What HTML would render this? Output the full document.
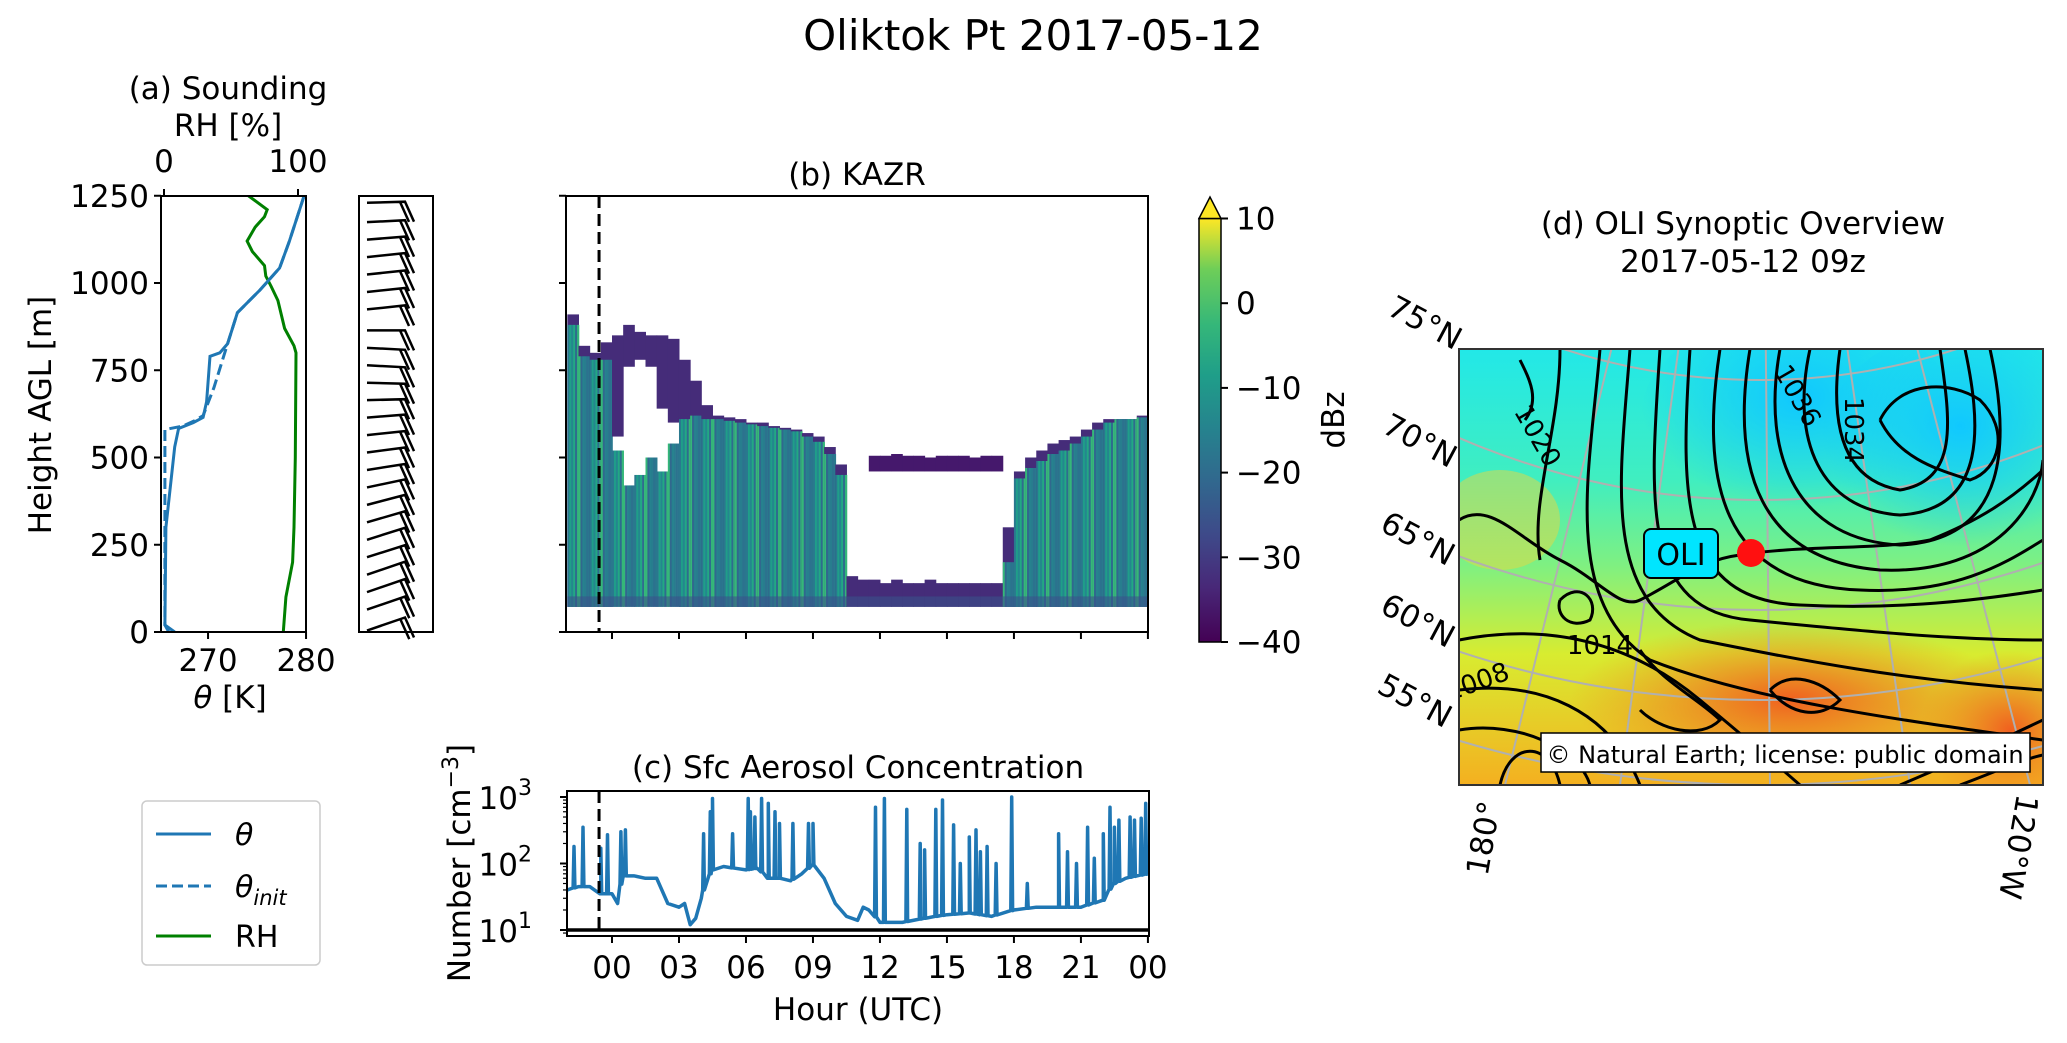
<!DOCTYPE html>
<html><head><meta charset="utf-8"><style>
html,body{margin:0;padding:0;background:#fff;overflow:hidden}
svg{display:block;font-family:"DejaVu Sans","Liberation Sans",sans-serif}
</style></head><body>
<svg id="fig" width="2067" height="1043" viewBox="0 0 2067 1043" xmlns="http://www.w3.org/2000/svg">
<defs>
<linearGradient id="viridis" x1="0" y1="1" x2="0" y2="0">
<stop offset="0" stop-color="#440154"/><stop offset="0.13" stop-color="#482878"/><stop offset="0.25" stop-color="#3e4989"/><stop offset="0.38" stop-color="#31688e"/><stop offset="0.5" stop-color="#26828e"/><stop offset="0.63" stop-color="#1f9e89"/><stop offset="0.75" stop-color="#35b779"/><stop offset="0.88" stop-color="#6ece58"/><stop offset="1" stop-color="#fde725"/>
</linearGradient>
<linearGradient id="mapbg" x1="0" y1="0" x2="0" y2="1">
<stop offset="0" stop-color="#22e8e8"/><stop offset="0.3" stop-color="#40eec0"/><stop offset="0.5" stop-color="#80f080"/><stop offset="0.7" stop-color="#d8ec30"/><stop offset="1" stop-color="#f4b020"/>
</linearGradient>
<radialGradient id="hiblue" cx="0.5" cy="0.4" r="0.5"><stop offset="0" stop-color="#10c8ff"/><stop offset="1" stop-color="#10c8ff" stop-opacity="0"/></radialGradient>
<radialGradient id="orange" cx="0.5" cy="0.5" r="0.5"><stop offset="0" stop-color="#f06020"/><stop offset="1" stop-color="#f08020" stop-opacity="0"/></radialGradient>
<clipPath id="mapclip"><rect x="1459" y="349" width="584" height="436"/></clipPath>
<clipPath id="aclip"><rect x="161" y="196" width="145" height="436"/></clipPath>
<clipPath id="cclip"><rect x="567" y="791" width="582" height="145"/></clipPath>
</defs>
<text x="1033" y="50" font-size="42" text-anchor="middle">Oliktok Pt 2017-05-12</text>
<g id="pa"></g>
<g id="pbarb"></g>
<g id="pb"></g>
<g id="pc"></g>
<g id="pd"></g>
<g>
<rect x="142" y="801" width="178" height="164" rx="5" fill="#fff" stroke="#ccc" stroke-width="1.5"/>
<line x1="156" y1="834" x2="211" y2="834" stroke="#1f77b4" stroke-width="3"/>
<text x="235" y="845" font-size="30" font-style="italic">θ</text>
<line x1="156" y1="886" x2="211" y2="886" stroke="#1f77b4" stroke-width="3" stroke-dasharray="11,5"/>
<text x="235" y="897" font-size="30"><tspan font-style="italic">θ</tspan><tspan font-size="21" dy="8" font-style="italic">init</tspan></text>
<line x1="156" y1="936" x2="211" y2="936" stroke="#008000" stroke-width="3"/>
<text x="235" y="947" font-size="30">RH</text>
</g>
</svg>
<script>
const NS="http://www.w3.org/2000/svg";
function mk(parent,tag,attrs,text){const e=document.createElementNS(NS,tag);for(const k in attrs)e.setAttribute(k,attrs[k]);if(text!==undefined)e.textContent=text;parent.appendChild(e);return e;}

// ---------- Panel (a) data ----------
const thetaHeights=[0,20,300,530,583,600,615,660,790,800,826,915,980,1043,1120,1250];
const thetaValues=[266.6,265.6,265.7,266.6,267.0,268.5,269.5,269.85,270.2,271.2,272.0,273.0,275.3,277.3,278.3,279.8];
const thetaInitHeights=[0,20,300,580,590,605,620,700,826,915,980,1043,1120,1250];
const thetaInitValues=[266.0,265.6,265.6,265.6,267.4,268.6,269.5,270.6,272.0,273.0,275.3,277.3,278.3,279.8];
const rhHeights=[0,100,200,300,500,800,820,870,950,990,1020,1050,1090,1120,1160,1190,1210,1230,1250];
const rhValues=[89,91,96,97,98,98.5,97,90,85,80,76,75,66,62,68,75,77,70,63];
const heightTicks=[0,250,500,750,1000,1250];
const thetaTicks=[270,280];
const rhTicks=[0,100];
const barbHeights=[1230,1180,1130,1080,1030,980,930,870,820,770,720,670,620,570,520,470,420,370,320,270,220,170,120,70,10];
const barbSlopes=[-1,-2,-3,-4,-4,-4,-4,0,2,2,1,-1,-3,-4,-5,-6,-8,-10,-11,-12,-12,-13,-13,-13,-13];

const aX=t=>161+(t-265.2)*9.8;
const rX=r=>164+r*1.34;
const hY=h=>632-h*0.349;
{
const g=document.getElementById('pa');
const plot=mk(g,'g',{'clip-path':'url(#aclip)'});
let p=rhHeights.map((h,i)=>(i?'L':'M')+rX(rhValues[i]).toFixed(1)+','+hY(h).toFixed(1)).join('');
let e=mk(plot,'path',{d:p,fill:'none',stroke:'#008000','stroke-width':3});

p=thetaInitHeights.map((h,i)=>(i?'L':'M')+aX(thetaInitValues[i]).toFixed(1)+','+hY(h).toFixed(1)).join('');
e=mk(plot,'path',{d:p,fill:'none',stroke:'#1f77b4','stroke-width':3,'stroke-dasharray':'11,5'});

p=thetaHeights.map((h,i)=>(i?'L':'M')+aX(thetaValues[i]).toFixed(1)+','+hY(h).toFixed(1)).join('');
e=mk(plot,'path',{d:p,fill:'none',stroke:'#1f77b4','stroke-width':3});

e=mk(g,'rect',{x:161,y:196,width:145,height:436,fill:'none',stroke:'#000','stroke-width':2});

heightTicks.forEach(h=>{const y=hY(h);mk(g,'line',{x1:154,x2:161,y1:y,y2:y,stroke:'#000','stroke-width':2});
 const t=mk(g,'text',{x:149,y:y+11,'font-size':31,'text-anchor':'end'},String(h));
 });
thetaTicks.forEach(v=>{const x=aX(v);mk(g,'line',{x1:x,x2:x,y1:632,y2:639,stroke:'#000','stroke-width':2});
 const t=mk(g,'text',{x:x,y:671,'font-size':31,'text-anchor':'middle'},String(v));
 });
rhTicks.forEach(v=>{const x=rX(v);mk(g,'line',{x1:x,x2:x,y1:189,y2:196,stroke:'#000','stroke-width':2});
 const t=mk(g,'text',{x:x,y:172,'font-size':31,'text-anchor':'middle'},String(v));
 });
let t=mk(g,'text',{x:228,y:99,'font-size':31,'text-anchor':'middle'},'(a) Sounding');

t=mk(g,'text',{x:228,y:136,'font-size':31,'text-anchor':'middle'},'RH [%]');

t=mk(g,'text',{x:230,y:708,'font-size':31,'text-anchor':'middle'});
mk(t,'tspan',{'font-style':'italic'},'θ');mk(t,'tspan',{},' [K]');

t=mk(g,'text',{x:0,y:0,'font-size':31,'text-anchor':'middle',transform:'translate(51,415) rotate(-90)'},'Height AGL [m]');

// barbs
const gb=document.getElementById('pbarb');
let fr=mk(gb,'rect',{x:359,y:196,width:74,height:436,fill:'none',stroke:'#000','stroke-width':2});

barbHeights.forEach((h,i)=>{const y=hY(h)+ (h>1200?0:2);const s=barbSlopes[i];
 const x0=367,x1=405,y1=y+s;const dx=x1-x0,dy=y1-y;const L=Math.hypot(dx,dy);const ux=dx/L,uy=dy/L;
 const b=mk(gb,'path',{d:`M${x0},${y}L${x1},${y1.toFixed(1)}L${(x1+9).toFixed(1)},${(y1+20).toFixed(1)}M${(x1-5*ux).toFixed(1)},${(y1-5*uy).toFixed(1)}L${(x1-5*ux+9).toFixed(1)},${(y1-5*uy+20).toFixed(1)}`,fill:'none',stroke:'#000','stroke-width':2.5});
 });
}

// ---------- Panel (b) KAZR ----------
const kHours=[-2,-1.5,-1,-0.5,0,0.5,1,1.5,2,2.5,3,3.5,4,4.5,5,5.5,6,6.5,7,7.5,8,8.5,9,9.5,10,10.5,11,11.5,12,12.5,13,13.5,14,14.5,15,15.5,16,16.5,17,17.5,18,18.5,19,19.5,20,20.5,21,21.5,22,22.5,23,23.5];
const kBodyTop=[880,790,780,780,520,420,450,500,460,540,610,620,610,610,605,600,595,590,585,580,575,560,545,510,450,0,0,0,0,0,0,0,0,0,0,0,0,0,0,200,440,470,490,510,520,540,560,580,600,610,610,615];
const kCapTop=[910,820,800,830,850,880,860,850,850,840,780,720,650,620,615,610,600,600,590,585,580,570,560,530,480,160,150,150,140,150,140,140,150,140,140,140,140,140,140,300,460,500,520,540,550,560,580,600,610,610,610,620];
const kCapBottom=[0,0,0,0,560,760,780,760,640,600,0,0,0,0,0,0,0,0,0,0,0,0,0,0,0,0,0,0,0,0,0,0,0,0,0,0,0,0,0,0,0,0,0,0,0,0,0,0,0,0,0,0];
const kMidBase=[0,0,0,0,0,0,0,0,0,0,0,0,0,0,0,0,0,0,0,0,0,0,0,0,0,0,0,460,460,460,460,460,460,460,460,460,460,460,460,0,0,0,0,0,0,0,0,0,0,0,0,0];
const kMidTop=[0,0,0,0,0,0,0,0,0,0,0,0,0,0,0,0,0,0,0,0,0,0,0,0,0,0,0,505,505,510,505,505,500,505,505,505,500,505,505,0,0,0,0,0,0,0,0,0,0,0,0,0];
const kBase=72;
const dbzTicks=[10,0,-10,-20,-30,-40];
const bX=h=>612+h*22.33;
{
const g=document.getElementById('pb');
const col=['#2a788e','#26828e','#2f6c8e','#1f9e89','#287d8e','#35b779','#24878e','#2c728e','#31688e','#22a884'];
kHours.forEach((h,i)=>{
 const x=bX(h), w=22.33*0.5+0.5;
 const cap=kCapTop[i], body=kBodyTop[i];
 const capBot=kCapBottom[i]>0?kCapBottom[i]:kBase;
 if(cap>0){let r=mk(g,'rect',{x:x,y:hY(cap),width:w,height:hY(capBot)-hY(cap),fill:'#452c79'});
  }
 if(body>0){
  for(let k=0;k<6;k++){let r=mk(g,'rect',{x:x+k*w/6,y:hY(body),width:w/6+0.3,height:hY(kBase)-hY(body),fill:col[(i*5+k*3)%col.length]});
   }
 }
 if(kMidTop[i]>0){let r=mk(g,'rect',{x:x,y:hY(kMidTop[i]),width:w,height:hY(kMidBase[i])-hY(kMidTop[i]),fill:'#45186c'});
  }
 let r=mk(g,'rect',{x:x,y:hY(kBase+30),width:w,height:hY(kBase)-hY(kBase+30),fill:'#3b528b','fill-opacity':0.6});
 
});
let e=mk(g,'line',{x1:bX(-0.58),x2:bX(-0.58),y1:196,y2:632,stroke:'#000','stroke-width':3,'stroke-dasharray':'12,6'});

e=mk(g,'rect',{x:566,y:196,width:582,height:436,fill:'none',stroke:'#000','stroke-width':2});

heightTicks.forEach(h=>{const y=hY(h);mk(g,'line',{x1:559,x2:566,y1:y,y2:y,stroke:'#000','stroke-width':2});});
for(let hr=0;hr<=24;hr+=3){const x=bX(hr);mk(g,'line',{x1:x,x2:x,y1:632,y2:639,stroke:'#000','stroke-width':2});}
let t=mk(g,'text',{x:857,y:185,'font-size':31,'text-anchor':'middle'},'(b) KAZR');

const cY=v=>642-(v+40)*8.47;
e=mk(g,'rect',{x:1199,y:cY(10),width:22,height:cY(-40)-cY(10),fill:'url(#viridis)',stroke:'#000','stroke-width':1.5});

e=mk(g,'path',{d:`M1199,${cY(10)}L1210,197L1221,${cY(10)}Z`,fill:'#fde725',stroke:'#000','stroke-width':1.5});

dbzTicks.forEach(v=>{const y=cY(v);mk(g,'line',{x1:1221,x2:1228,y1:y,y2:y,stroke:'#000','stroke-width':2});
 const tt=mk(g,'text',{x:1236,y:y+11,'font-size':31},(v<0?'\u2212':'')+Math.abs(v));
 });
t=mk(g,'text',{x:0,y:0,'font-size':31,'text-anchor':'middle',transform:'translate(1344,420) rotate(-90)'},'dBz');

}

// ---------- Panel (c) aerosol ----------
const aeroHours=[-2,-1.5,-1,-0.5,0,0.25,0.5,1,1.5,2,2.5,3,3.25,3.5,3.75,4,4.5,5,5.5,6,6.5,7,7.5,8,8.5,9,9.5,10,10.5,11,11.25,11.5,12,13,14,15,16,17,18,19,20,21,22,22.5,23,23.5,24];
const aeroBase=[40,45,45,35,35,25,65,65,60,60,25,22,25,12,15,30,80,90,85,80,85,60,60,55,70,95,60,25,16,14,22,20,13,13,15,17,18,16,20,22,22,22,28,50,60,65,70];
const spikeHours=[-1.7,-1.3,-0.5,-0.2,0.4,0.6,4.1,4.4,4.5,5.4,6.1,6.2,6.4,6.7,7,7.3,7.5,8.1,8.8,9,11.8,12.2,13.2,13.8,14,14.5,14.8,15.3,15.6,16,16.3,16.5,16.8,17.2,17.9,18.6,20,20.4,20.8,21.3,21.6,22,22.3,22.5,22.7,23.2,23.4,23.7,23.9];
const spikePeaks=[180,350,170,270,300,320,280,600,950,280,950,600,500,950,800,600,400,400,400,400,700,950,650,200,160,650,900,380,100,250,320,150,180,100,1000,50,280,150,100,350,120,280,700,350,450,500,450,480,800];
const aeroYTicks=[1,2,3];
const hourTicks=[0,3,6,9,12,15,18,21,24];
const cYv=v=>930-(Math.log10(v)-1)*66.5;
function baseAt(h){for(let i=1;i<aeroHours.length;i++){if(h<=aeroHours[i]){const f=(h-aeroHours[i-1])/(aeroHours[i]-aeroHours[i-1]);return aeroBase[i-1]+f*(aeroBase[i]-aeroBase[i-1]);}}return aeroBase[aeroBase.length-1];}
{
const g=document.getElementById('pc');
const pts=aeroHours.map((h,i)=>[h,aeroBase[i]]);
spikeHours.forEach((h,i)=>{const b=baseAt(h);pts.push([h-0.04,b]);pts.push([h,spikePeaks[i]]);pts.push([h+0.04,b]);});
pts.sort((a,b)=>a[0]-b[0]);
const plot=mk(g,'g',{'clip-path':'url(#cclip)'});
let e=mk(plot,'path',{d:pts.map((p,i)=>(i?'L':'M')+bX(p[0]).toFixed(1)+','+cYv(p[1]).toFixed(1)).join(''),fill:'none',stroke:'#1f77b4','stroke-width':3.5,'stroke-linejoin':'round'});

e=mk(g,'line',{x1:567,x2:1149,y1:cYv(10),y2:cYv(10),stroke:'#000','stroke-width':3.5});

e=mk(g,'line',{x1:bX(-0.58),x2:bX(-0.58),y1:791,y2:936,stroke:'#000','stroke-width':3,'stroke-dasharray':'12,6'});

e=mk(g,'rect',{x:567,y:791,width:582,height:145,fill:'none',stroke:'#000','stroke-width':2});

for(let d=0;d<=3;d++){for(let m=1;m<10;m++){const v=Math.pow(10,d)*m;const y=cYv(v);if(y<791||y>936)continue;
 mk(g,'line',{x1:m==1?560:563,x2:567,y1:y,y2:y,stroke:'#000','stroke-width':m==1?2:1.2});}}
aeroYTicks.forEach(d=>{const y=cYv(Math.pow(10,d));const tt=mk(g,'text',{x:532,y:y+12,'font-size':31,'text-anchor':'end'},'10');
 mk(tt,'tspan',{'font-size':22,dy:-14},String(d));});
hourTicks.forEach(h=>{const x=bX(h);mk(g,'line',{x1:x,x2:x,y1:936,y2:943,stroke:'#000','stroke-width':2});
 const tt=mk(g,'text',{x:x,y:978,'font-size':31,'text-anchor':'middle'},String(h%24).padStart(2,'0'));
 });
let t=mk(g,'text',{x:858,y:778,'font-size':31,'text-anchor':'middle'},'(c) Sfc Aerosol Concentration');

t=mk(g,'text',{x:0,y:1020,'font-size':31,'text-anchor':'middle',transform:'translate(858,0)'},'Hour (UTC)');

t=mk(g,'text',{x:0,y:0,'font-size':31,'text-anchor':'middle',transform:'translate(470,863) rotate(-90)'},'Number [cm');
mk(t,'tspan',{'font-size':22,dy:-12},'\u22123');mk(t,'tspan',{dy:12},']');

}

// ---------- Panel (d) map ----------
const latLabels=['75°N','70°N','65°N','60°N','55°N'];
const latRadii=[640,760,870,960,1045];
{
const g=document.getElementById('pd');
const m=mk(g,'g',{'clip-path':'url(#mapclip)'});
let e=mk(m,'rect',{x:1459,y:349,width:584,height:436,fill:'url(#mapbg)'});

mk(m,'ellipse',{cx:1800,cy:420,rx:160,ry:110,fill:'url(#hiblue)'});
mk(m,'ellipse',{cx:1960,cy:450,rx:140,ry:120,fill:'url(#hiblue)'});
mk(m,'ellipse',{cx:1790,cy:700,rx:220,ry:80,fill:'url(#orange)'});
mk(m,'ellipse',{cx:2010,cy:730,rx:90,ry:80,fill:'url(#orange)'});
mk(m,'ellipse',{cx:1500,cy:520,rx:60,ry:50,fill:'#e8d840','fill-opacity':0.5});
const cx=1760,cy=-260;
latRadii.forEach(r=>{mk(m,'circle',{cx:cx,cy:cy,r:r,fill:'none',stroke:'#b0b0b0','stroke-width':2});});
[1505,1620,1770,1910,2030].forEach(bx=>{mk(m,'line',{x1:cx,y1:cy,x2:cx+(bx-cx)*1.3,y2:cy+(785-cy)*1.3,stroke:'#b0b0b0','stroke-width':2});});
const cont=['M1840,349 C1830,420 1840,480 1900,490 C1960,480 1950,420 1940,349',
'M1810,349 C1790,440 1820,510 1900,515 C1990,510 1980,420 1965,349',
'M1780,349 C1760,460 1800,540 1900,545 C2010,540 2010,440 1990,349',
'M1750,349 C1730,470 1760,560 1880,570 C2000,575 2040,500 2043,460',
'M1720,349 C1700,480 1720,585 1860,590 C1960,595 2010,560 2043,540',
'M1690,349 C1680,500 1680,600 1800,605 C1900,610 1980,600 2043,590',
'M1660,349 C1650,500 1640,610 1750,620 C1850,630 1950,640 2043,640',
'M1630,349 C1620,480 1600,600 1700,640 C1800,660 1900,680 2043,690',
'M1600,349 C1590,470 1560,600 1650,660 C1750,700 1900,720 2043,740',
'M1560,349 C1560,430 1530,500 1540,560',
'M1459,640 C1560,620 1640,650 1700,700 C1760,750 1800,785 1800,785',
'M1459,690 C1540,680 1610,710 1640,785',
'M1459,730 C1520,720 1580,750 1590,785',
'M1500,785 C1510,740 1550,740 1560,785',
'M1900,785 C1960,760 2000,740 2043,720',
'M1960,785 C2000,770 2020,760 2043,755',
'M1520,360 C1530,380 1540,400 1525,420'];
cont.forEach(d=>{const c=mk(m,'path',{d:d,fill:'none',stroke:'#000','stroke-width':3});
 });
const coast=['M1459,520 C1490,500 1520,540 1560,560 C1600,580 1620,610 1640,600 C1680,580 1700,560 1740,555 C1800,545 1880,550 1930,540 C1980,520 2010,500 2043,470',
'M1880,420 C1900,380 1950,380 1980,400 C2010,430 2000,470 1970,480 C1940,470 1900,460 1880,420',
'M1770,690 C1790,670 1820,680 1840,700 C1820,720 1790,715 1770,690',
'M1640,650 C1660,680 1700,700 1720,720 C1700,740 1660,730 1640,710',
'M1560,600 C1580,580 1600,600 1590,620 C1570,630 1555,615 1560,600'];
coast.forEach(d=>{const c=mk(m,'path',{d:d,fill:'none',stroke:'#000','stroke-width':3});
 });
[['1036',1790,400,60],['1034',1845,430,90],['1020',1530,440,60],['1014',1600,654,0],['1008',1480,690,-20]].forEach(a=>{
 const t=mk(m,'text',{x:0,y:0,'font-size':26,'text-anchor':'middle',transform:`translate(${a[1]},${a[2]}) rotate(${a[3]})`},a[0]);
 });
e=mk(g,'rect',{x:1459,y:349,width:584,height:436,fill:'none',stroke:'#333','stroke-width':2});

e=mk(g,'rect',{x:1644,y:529,width:74,height:49,rx:7,fill:'#00e5ff',stroke:'#000','stroke-width':2});

let t=mk(g,'text',{x:1681,y:565,'font-size':30,'text-anchor':'middle'},'OLI');

e=mk(g,'circle',{cx:1751,cy:553,r:14,fill:'#ff1010'});

e=mk(g,'rect',{x:1541,y:733,width:489,height:39,fill:'#fff',stroke:'#000','stroke-width':1.5});

t=mk(g,'text',{x:1785,y:763,'font-size':24,'text-anchor':'middle'},'© Natural Earth; license: public domain');

t=mk(g,'text',{x:1743,y:234,'font-size':31,'text-anchor':'middle'},'(d) OLI Synoptic Overview');

t=mk(g,'text',{x:1743,y:272,'font-size':31,'text-anchor':'middle'},'2017-05-12 09z');

const latPos=[[1420,322],[1415,440],[1413,538],[1413,620],[1410,700]];
latLabels.forEach((s,i)=>{const tt=mk(g,'text',{x:0,y:0,'font-size':31,'text-anchor':'middle',transform:`translate(${latPos[i][0]},${latPos[i][1]+10}) rotate(28)`},s);
 });
t=mk(g,'text',{x:0,y:0,'font-size':31,'text-anchor':'middle',transform:'translate(1494,840) rotate(-80)'},'180°');

t=mk(g,'text',{x:0,y:0,'font-size':31,'text-anchor':'middle',transform:'translate(2008,845) rotate(100)'},'120°W');

}
</script>
</body></html>
